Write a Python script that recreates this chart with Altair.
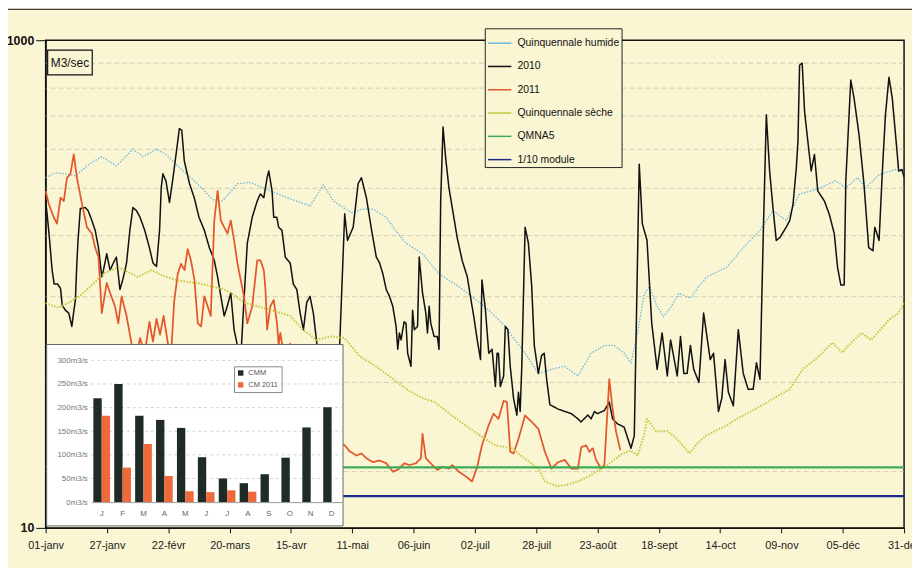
import altair as alt
import pandas as pd

# ---------------- data ----------------
DATE_LABELS = ["01-janv", "27-janv", "22-févr", "20-mars", "15-avr", "11-mai", "06-juin",
               "02-juil", "28-juil", "23-août", "18-sept", "14-oct", "09-nov", "05-déc", "31-déc"]
TICK_DAYS = [0, 26, 52, 78, 104, 130, 156, 182, 208, 234, 260, 286, 312, 338, 364]

SERIES = ["Quinquennale humide", "2010", "2011", "Quinquennale sèche", "QMNA5", "1/10 module"]

# (day of year, flow m3/s)
Q_HUMIDE = [(0, 273), (4.1, 286), (8.4, 283), (12.6, 278), (18.2, 309), (23.8, 333), (30, 305), (37, 357),
            (41.3, 333), (46.9, 357), (51, 340), (56, 305), (61.6, 273), (67.3, 241), (70.8, 222), (75, 219),
            (81.3, 258), (86.9, 261), (95.3, 241), (100.9, 229), (107.9, 216), (112.1, 209), (117.8, 255),
            (122, 219), (126.2, 206), (129.7, 196), (134, 203), (138.8, 203), (144.4, 188), (148.5, 165),
            (152.8, 147), (159.8, 133), (166.8, 110), (175.2, 97.5), (180.8, 88.7), (187.8, 78.4), (194.9, 67),
            (199, 59), (203.3, 52), (208.9, 43), (214.5, 44.7), (220, 46), (225.7, 42), (231.3, 52), (236.9, 56),
            (241.1, 56), (245.3, 52), (248.2, 47.5), (251, 63), (253.7, 90), (256, 98), (259, 82), (262, 73.5),
            (265, 80), (268.5, 91.6), (273.4, 87.6), (277, 98), (280.4, 107), (284.5, 112), (288.8, 117),
            (295.8, 141), (302.9, 166), (308.4, 200), (314, 182), (319.7, 234), (326.7, 244), (335, 265),
            (339.3, 248), (344.2, 273), (347.8, 248), (353.4, 281), (360.4, 295), (364, 285)]

FLOW_2010 = [(0, 219), (0.7, 190), (1.7, 150), (2.7, 115), (3.6, 100), (5, 100), (6.3, 96), (7, 82), (8.4, 78),
             (9.8, 76), (11.1, 67), (11.9, 77), (12.6, 86), (13.2, 120), (13.7, 150), (14.7, 204), (16.8, 206),
             (18, 200), (19.6, 182), (21, 166), (22.4, 141), (23.8, 107), (24.5, 114), (25.9, 133), (27.3, 114),
             (28.7, 122), (30, 129), (31.5, 95), (32.8, 105), (34.3, 122), (35.7, 166), (37, 206), (38.5, 200),
             (40, 188), (42, 166), (44, 141), (45.5, 122), (47, 118), (48.3, 166), (49, 248), (49.7, 283),
             (51, 265), (52.5, 216), (54, 273), (55.3, 341), (56.7, 434), (57.7, 428), (58.8, 319), (61, 258),
             (63, 226), (65, 188), (67.3, 166), (69.4, 141), (71.5, 125), (72.9, 107), (74.3, 89), (75.7, 74),
             (77, 81), (78.5, 92), (79.9, 65), (81.3, 56), (82.5, 45), (84, 83), (85.5, 147), (87.6, 188),
             (89.7, 219), (91, 234), (92.5, 226), (93.9, 273), (94.6, 291), (96, 241), (96.7, 188), (98, 188),
             (98.8, 171), (100.2, 166), (101.6, 129), (103.7, 122), (105, 100), (106.5, 95), (107.9, 76),
             (109.3, 65), (110.7, 84), (112.1, 89), (113.5, 76), (115, 57), (118, 40), (122, 40), (124.7, 57),
             (126.8, 194), (128, 151), (130.4, 171), (132.5, 258), (133.9, 273), (136, 226), (138, 171),
             (140.2, 129), (141.6, 122), (143, 110), (144.4, 95), (145.8, 89), (147.2, 81), (148.6, 67),
             (149.3, 54), (150, 63), (150.7, 59), (152, 70), (152.8, 69), (153.5, 52), (154.9, 46), (155.6, 78),
             (156.3, 65), (157.7, 67), (158.4, 129), (159.8, 92), (161.2, 76), (161.9, 63), (162.6, 81),
             (163.3, 69), (164.7, 61), (166.1, 61), (166.8, 54), (167.5, 219), (168.5, 441), (169.6, 330),
             (171, 248), (172.4, 206), (174.5, 155), (176.6, 125), (178.8, 107), (180.1, 89), (181.5, 74),
             (183, 59), (184.4, 49), (185, 104), (186.5, 78), (187.9, 52), (189.3, 54), (190.7, 38), (191.4, 52),
             (192, 52), (192.8, 38), (194.2, 42), (194.9, 67), (196, 65), (197, 46), (198.4, 34), (199.8, 29),
             (200.5, 36), (201.2, 30), (201.9, 46), (203.3, 171), (204.7, 147), (206.1, 98), (207.2, 56),
             (208.9, 43), (210.3, 51), (211.4, 52), (212.4, 41), (213.8, 32), (217.3, 30.7), (222.9, 29.4),
             (225.7, 28), (227, 27.2), (229.9, 29), (231.3, 28), (232.7, 30), (234, 29.4), (236.9, 30.3),
             (239, 32.8), (240.4, 28), (242.5, 26.7), (245.3, 25.9), (248.2, 21.2), (249.6, 23.9), (251.7, 310),
             (253, 177), (255, 151), (257, 69), (259.3, 44.7), (261.4, 63), (263.6, 42), (265, 59), (267.8, 42),
             (269.2, 61), (270.6, 43), (272, 43), (273.4, 56), (274.8, 44.7), (277, 39.5), (279, 76), (281.8, 49),
             (283.2, 52), (285.3, 30), (286.7, 34), (288.1, 49), (289.5, 36), (291.6, 31.7), (293.7, 65),
             (295.8, 43), (297.9, 37), (300, 37), (301.4, 47.5), (302.9, 40.7), (304.3, 161), (305.6, 494),
             (307, 290), (308.4, 206), (309.8, 151), (311.3, 155), (314, 171), (315.5, 182), (316.9, 212),
             (318.3, 299), (319, 385), (319.7, 790), (320.8, 805), (321.8, 510), (323.2, 385), (324.6, 291),
             (326, 340), (327.4, 241), (330.2, 219), (332.3, 193), (334.4, 161), (335.8, 117), (337.2, 99),
             (338.6, 99), (339.3, 265), (341.4, 686), (342.8, 578), (344.9, 410), (347, 257), (349, 141),
             (350.8, 137), (351.6, 171), (353.4, 151), (354.8, 291), (356.1, 494), (357.6, 705), (359, 578),
             (361, 351), (361.7, 291), (363.1, 295), (364, 275)]

FLOW_2011 = [(0, 241), (1.3, 213), (3.4, 188), (4.8, 177), (6.3, 226), (7.7, 219), (9, 272), (10.5, 283),
             (11.9, 340), (13.3, 272), (15.4, 213), (17.5, 171), (19.6, 161), (21, 141), (22.4, 129), (23.8, 76),
             (25.9, 101), (27.3, 92), (29.4, 81), (30.8, 69), (32.2, 89), (34.3, 74), (36.4, 57), (38, 48),
             (40, 60), (42, 52), (44, 70), (45.5, 58), (47, 72), (48.5, 62), (50, 74), (51.5, 60), (53, 48),
             (54.5, 85), (56, 110), (57.4, 121), (58.9, 114), (60.2, 139), (61.6, 125), (63.1, 104), (64.5, 69),
             (65.9, 67), (67.3, 89), (68.7, 81), (70, 74), (71.5, 182), (72.9, 241), (74.3, 182), (75.7, 171),
             (77.1, 161), (78.5, 182), (79.9, 151), (81.3, 122), (82.7, 104), (84.1, 89), (85.5, 69), (87.6, 81),
             (89.7, 125), (91.1, 125), (92.5, 114), (93.2, 95), (93.9, 65), (95.3, 81), (96.7, 86), (98.1, 69),
             (98.8, 56), (99.5, 63), (101.5, 48), (103.7, 57), (106, 40), (112, 30), (120, 24), (126.8, 21.8),
             (128.9, 20.6), (131.8, 19.8), (133.9, 20.2), (136, 19.3), (138.8, 18.6), (141.6, 18.9), (144.4, 18.4),
             (147.2, 17), (149.3, 17.3), (152.1, 18.4), (154.2, 18.1), (157, 18.4), (159.1, 19.3), (159.8, 24.3),
             (161.2, 19.3), (164, 18.1), (166.1, 17.3), (168.2, 17.8), (171, 17.5), (172.4, 18.1), (175.2, 17),
             (178, 16.3), (180.8, 15.5), (183, 17.8), (185, 21.8), (187.8, 26.3), (189.9, 29.4), (192, 28),
             (194.2, 33.2), (195.6, 32.8), (197, 20.5), (198.4, 20.2), (200.5, 23.2), (203.3, 28.9), (206.1, 27.2),
             (208.9, 25.5), (211.7, 20.5), (214.5, 17.5), (217.3, 18.6), (220.1, 19), (222.9, 17.5), (225.7, 17.5),
             (227.1, 21.4), (229.2, 21.8), (230.6, 20.5), (232, 21.2), (233.4, 19), (235.5, 17.5), (236.9, 18.1),
             (239, 40.7), (240.4, 30.7), (241.9, 24.7), (243.7, 20.8)]

Q_SECHE = [(0, 83.5), (5.5, 80), (10, 84), (15, 90), (20, 100), (25, 111), (30.8, 117), (35, 112), (39, 107),
           (44.8, 114), (50, 108), (55, 104), (60, 102), (64.4, 101), (70, 98), (75.7, 95), (80, 90), (84, 84),
           (90, 81), (96, 78), (103.7, 74), (109, 65), (115, 59), (121, 61), (126.8, 60), (133, 50.7), (140, 46),
           (147, 41), (154, 36.5), (160, 34), (165, 32.8), (171, 29.5), (178, 26.3), (184, 24), (190.7, 21.8),
           (197.7, 21.2), (203, 19.3), (209, 17.5), (211.7, 15.5), (217, 14.8), (221, 15), (225.7, 15.5),
           (230, 16.2), (234, 17.1), (238, 18), (241, 19), (244, 20), (248, 20.8), (251, 19.8), (253.7, 23.9),
           (255, 28), (259, 24.8), (263.6, 25), (268, 23), (273, 20.2), (276, 22), (280, 23.9), (284, 25),
           (288.8, 26.3), (293, 28), (298.7, 29.9), (303, 31.5), (308.4, 33.8), (312, 35.5), (315.5, 37),
           (321, 44.7), (325, 48), (328, 50.7), (333.6, 57.5), (337.8, 52.4), (342, 58), (346, 63), (350, 59),
           (354, 65), (357.6, 71.4), (361.6, 76), (364, 84)]

QMNA5 = [(0, 17.7), (364, 17.7)]
MODULE_10 = [(0, 13.5), (364, 13.5)]

GRID_VALUES = [17, 39.5, 88.7, 158, 247, 357, 488, 636, 805]
UNIT_LABEL = ["M3/sec"]

# inset: monthly mean flows
MONTHS = ["janv", "févr", "mars", "avr", "mai", "juin", "juil", "août", "sept", "oct", "nov", "déc"]
MONTH_INITIALS = ["J", "F", "M", "A", "M", "J", "J", "A", "S", "O", "N", "D"]
CMM = [220, 250, 183, 174, 157, 95, 50, 40, 59, 94, 158, 201]
CM_2011 = [183, 73, 123, 55, 23, 21, 25, 22]
BAR_TYPES = ["CMM", "CM 2011"]
INSET_TICKS = [0, 50, 100, 150, 200, 250, 300]

# ---------------- styling ----------------
BG = "#FAF6D4"
FONT = "Liberation Sans Narrow, Arial Narrow, Liberation Sans, sans-serif"
COLORS = ["#6BB8DE", "#111111", "#E4552A", "#C2C83A", "#3DAA55", "#1B2A8C"]
DASHES = [[1.5, 1.5], [1, 0], [1, 0], [1.5, 1.5], [1, 0], [1, 0]]
WIDTHS = [1.3, 2.4, 1.8, 1.3, 2.8, 2.8]

rows = []
for name, pts in zip(SERIES, [Q_HUMIDE, FLOW_2010, FLOW_2011, Q_SECHE, QMNA5, MODULE_10]):
    for d, v in pts:
        rows.append({"series": name, "day": d, "value": v})
lines_df = pd.DataFrame(rows)

bar_rows = []
for i, m in enumerate(MONTHS):
    bar_rows.append({"month": m, "type": "CMM", "value": CMM[i]})
    if i < len(CM_2011):
        bar_rows.append({"month": m, "type": "CM 2011", "value": CM_2011[i]})
bars_df = pd.DataFrame(bar_rows)

date_js = "[" + ",".join("'" + s + "'" for s in DATE_LABELS) + "]"
months_js = "[" + ",".join("'" + s + "'" for s in MONTHS) + "]"
init_js = "[" + ",".join("'" + s + "'" for s in MONTH_INITIALS) + "]"

x_main = alt.X("day:Q", scale=alt.Scale(domain=[0, 364], nice=False, zero=False),
               axis=alt.Axis(values=TICK_DAYS, labelExpr=date_js + "[round(datum.value/26)]", title=None,
                             grid=False, tickSize=5, tickColor="#111", domainColor="#111", domainWidth=1.5,
                             labelFont=FONT, labelFontSize=11, labelColor="#222", labelPadding=7,
                             labelFlush=False, labelOverlap=False))
y_main = alt.Y("value:Q", scale=alt.Scale(type="log", domain=[10, 1000], nice=False),
               axis=alt.Axis(values=[10, 1000], format="d", title=None, grid=False, tickSize=10,
                             tickColor="#111", domainColor="#111", domainWidth=1.2, labelPadding=2,
                             labelFont=FONT, labelFontSize=12.5, labelFontWeight="bold", labelColor="#111",
                             labelFlush=False))

grid = alt.Chart(pd.DataFrame({"value": GRID_VALUES})).mark_rule(
    color="#B9B69E", strokeDash=[5, 3], strokeWidth=0.8, opacity=0.8).encode(y=y_main)

lines = alt.Chart(lines_df).mark_line(strokeCap="butt", strokeJoin="round").encode(
    x=x_main, y=y_main,
    color=alt.Color("series:N", scale=alt.Scale(domain=SERIES, range=COLORS),
                    legend=alt.Legend(orient="none", legendX=443, legendY=-12, title=None, fillColor=BG,
                                      strokeColor="#222", padding=2, symbolType="stroke", symbolSize=560,
                                      labelFont=FONT, labelFontSize=10.5, labelColor="#111", labelOffset=5,
                                      rowPadding=4.5, labelLimit=220)),
    strokeDash=alt.StrokeDash("series:N", scale=alt.Scale(domain=SERIES, range=DASHES)),
    strokeWidth=alt.StrokeWidth("series:N", scale=alt.Scale(domain=SERIES, range=WIDTHS)),
)

unit_box = alt.Chart(pd.DataFrame({"t": UNIT_LABEL})).mark_rect(
    fill=BG, stroke="#111", strokeWidth=1.2).encode(
    x=alt.value(2), x2=alt.value(47), y=alt.value(10), y2=alt.value(35))
unit_text = alt.Chart(pd.DataFrame({"t": UNIT_LABEL})).mark_text(
    font=FONT, fontSize=12, color="#111").encode(text="t:N", x=alt.value(24.5), y=alt.value(23))

top_line = alt.Chart(pd.DataFrame({"t": UNIT_LABEL})).mark_rule(color="#444", strokeWidth=1.2).encode(
    x=alt.value(-38), x2=alt.value(874), y=alt.value(-31))

main = alt.layer(grid, lines, unit_box, unit_text, top_line)

# ---------------- inset ----------------
inset_y_scale = alt.Scale(domain=[0, 300], range=[466, 323], nice=False, zero=True)
inset_y_axis = alt.Axis(orient="left", offset=-46, values=INSET_TICKS, labelExpr="datum.value + 'm3/s'",
                        title=None, grid=False, ticks=False, domain=False, labelFontSize=8,
                        labelColor="#777", labelPadding=4, labelFont="Liberation Sans", zindex=2)

inset_bg = alt.Chart(pd.DataFrame({"t": UNIT_LABEL})).mark_rect(
    fill="white", stroke="#666", strokeWidth=1).encode(
    x=alt.value(1), x2=alt.value(300), y=alt.value(307), y2=alt.value(490))

inset_grid = alt.Chart(pd.DataFrame({"value": INSET_TICKS[1:]})).mark_rule(
    color="#C8C8C8", strokeDash=[3, 3], strokeWidth=0.8).encode(
    y=alt.Y("value:Q", scale=inset_y_scale, axis=inset_y_axis), x=alt.value(46), x2=alt.value(299))

inset_bars = alt.Chart(bars_df).mark_bar().encode(
    x=alt.X("month:N", sort=MONTHS,
            scale=alt.Scale(domain=MONTHS, range=[46, 299], paddingInner=0.2, paddingOuter=0.1),
            axis=alt.Axis(orient="bottom", offset=-26, title=None, labelAngle=0, ticks=False,
                          domainColor="#999", labelFontSize=8, labelColor="#666", labelPadding=8,
                          labelFont="Liberation Sans", grid=False, zindex=2,
                          labelExpr=init_js + "[indexof(" + months_js + ", datum.value)]")),
    xOffset=alt.XOffset("type:N", sort=BAR_TYPES, scale=alt.Scale(domain=BAR_TYPES, paddingInner=0)),
    y=alt.Y("value:Q", scale=inset_y_scale, axis=inset_y_axis),
    color=alt.Color("type:N", scale=alt.Scale(domain=BAR_TYPES, range=["#1E2B27", "#EE6A3A"]),
                    legend=alt.Legend(orient="none", legendX=190, legendY=329, title=None, fillColor="white",
                                      strokeColor="#888", padding=3, symbolType="square", symbolSize=30,
                                      labelFontSize=7.5, labelColor="#555", rowPadding=3,
                                      labelFont="Liberation Sans")),
)

inset = alt.layer(inset_bg, inset_grid, inset_bars)

chart = alt.layer(main, inset).resolve_scale(
    x="independent", y="independent", color="independent"
).properties(
    width=866, height=492, background=BG,
    padding={"left": 38, "top": 30, "right": 8, "bottom": 38},
    autosize=alt.AutoSizeParams(type="none"),
).configure_view(stroke="#111", strokeWidth=1.5)

chart.save("out.html", embed_options={"renderer": "svg", "actions": False})
